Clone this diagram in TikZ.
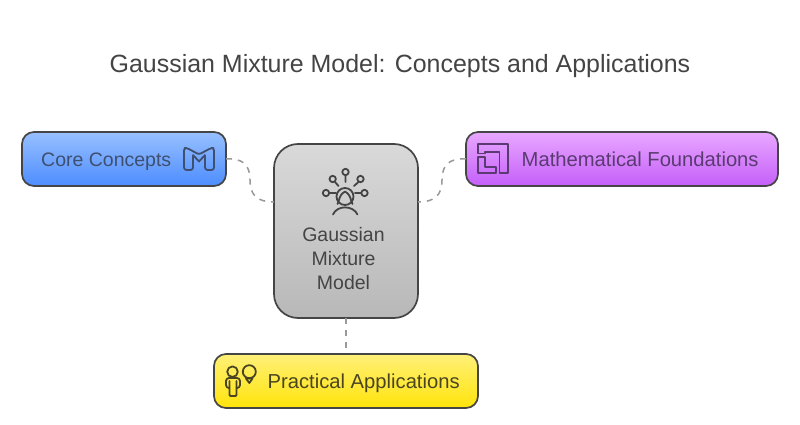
\documentclass[tikz,border=0pt]{standalone}
\usepackage{fontspec}
\setmainfont{Liberation Sans}
\definecolor{ink}{HTML}{444444}
\definecolor{edge}{HTML}{454545}
\definecolor{conn}{HTML}{999999}
\definecolor{bluetxt}{HTML}{3F4F70}
\definecolor{purptxt}{HTML}{5A3A70}
\definecolor{yeltxt}{HTML}{4A4520}
\tikzset{
  x=1pt,y=-1pt,
  box/.style={draw=edge,line width=1.7pt,rounded corners=12pt,anchor=north west,inner sep=0pt,outer sep=0pt},
  lbl/.style={text=ink,font=\fontsize{19.5}{23}\selectfont,inner sep=0pt},
  lblwide/.style={text=ink,font=\fontsize{20.2}{23}\selectfont,inner sep=0pt},
  conline/.style={draw=conn,line width=1.5pt,dash pattern=on 6pt off 6pt},
  iconline/.style={line width=1.8pt,line join=round,line cap=round},
}
\begin{document}
\begin{tikzpicture}
\useasboundingbox (0,0) rectangle (800,425);
\fill[white] (0,0) rectangle (800,425);
\node[text=ink,font=\fontsize{24.95}{28}\selectfont,inner sep=0pt] (title) at (400,66) {Gaussian Mixture Model: Concepts and Applications};
\node[box,minimum width=204pt,minimum height=54pt,top color={rgb,255:red,151;green,192;blue,255},bottom color={rgb,255:red,77;green,141;blue,255}] (core) at (22,132) {};
\node[box,minimum width=312pt,minimum height=54pt,top color={rgb,255:red,232;green,168;blue,255},bottom color={rgb,255:red,197;green,95;blue,250}] (math) at (466,132) {};
\node[box,minimum width=264pt,minimum height=54pt,top color={rgb,255:red,255;green,240;blue,120},bottom color={rgb,255:red,255;green,228;blue,10}] (prac) at (214,354) {};
\node[box,rounded corners=24pt,minimum width=144pt,minimum height=174pt,top color={rgb,255:red,217;green,217;blue,217},bottom color={rgb,255:red,184;green,184;blue,184}] (gmm) at (274,144) {};
\coordinate (gl) at (274,202);
\coordinate (gr) at (418,202);
\draw[conline] (core.east) .. controls (243,158) and (250,165) .. (250,180) .. controls (250,195) and (257,202) .. (gl);
\draw[conline] (math.west) .. controls (449,158) and (442,165) .. (442,180) .. controls (442,195) and (435,202) .. (gr);
\draw[conline] (gmm.south) -- (prac.north);
\node[lbl,text=bluetxt,anchor=base west] (t1) at (41,166) {Core Concepts};
\node[lblwide,text=purptxt,anchor=base west] (t2) at (521.5,166) {Mathematical Foundations};
\node[lblwide,text=yeltxt,anchor=base west] (t3) at (267.5,388) {Practical Applications};
\node[lbl,anchor=base] (t4) at (343.5,241) {Gaussian};
\node[lbl,anchor=base] (t5) at (343.5,265) {Mixture};
\node[lbl,anchor=base] (t6) at (343.5,289) {Model};
% core icon
\begin{scope}[iconline,draw=bluetxt]
\draw[rounded corners=2.5pt] (193,156) -- (193,170) -- (184,170) -- (184,148) -- (187,148) -- (199,154.5) -- (211,148) -- (214,148) -- (214,170) -- (205,170) -- (205,156);
\draw (193,155) -- (199,161.5) -- (205,155);
\end{scope}
% math icon
\begin{scope}[iconline,draw=purptxt]
\draw (478.3,156.7) -- (478.3,173.3) -- (496,173.3) -- (496,166.7) -- (485,166.7) -- (485,156.7) -- cycle;
\draw (478.3,144) -- (507.7,144) -- (507.7,173.3) -- (499.5,173.3) -- (499.5,152) -- (485,152) -- (485,153.5) -- (478.3,153.5) -- cycle;
\end{scope}
% practical icon
\begin{scope}[iconline,draw=yeltxt]
\draw (232.5,371.7) circle[radius=5.3];
\draw[rounded corners=3pt] (229.5,388) -- (226,388) -- (226,378) -- (240,378) -- (240,388) -- (236.5,388);
\draw[rounded corners=1pt] (229.5,381) -- (229.5,396) -- (236.5,396) -- (236.5,381);
\draw (249.3,371.7) circle[radius=6.5];
\draw (246,378.5) -- (252.5,378.5) -- (249.3,383) -- cycle;
\end{scope}
% gmm icon
\begin{scope}[iconline,draw=ink]
\draw (345.5,172) circle[radius=3.2] (332.7,179) circle[radius=3.2] (360.5,179) circle[radius=3.2] (326,193) circle[radius=3.2] (364.5,193) circle[radius=3.2];
\draw (345.5,175.5) -- (345.5,182) (335,182) -- (338.5,186) (358.5,182) -- (354,186) (329.5,193) -- (336,193) (361,193) -- (355,193);
\draw (345,196.5) circle[radius=8.5];
\draw (337.5,204) .. controls (340,200) and (338,196) .. (345,191.5) .. controls (352,196) and (350,200) .. (352.5,204);
\draw (333,214.5) .. controls (337,205) and (353,205) .. (357.5,214.5);
\end{scope}
\end{tikzpicture}
\end{document}
